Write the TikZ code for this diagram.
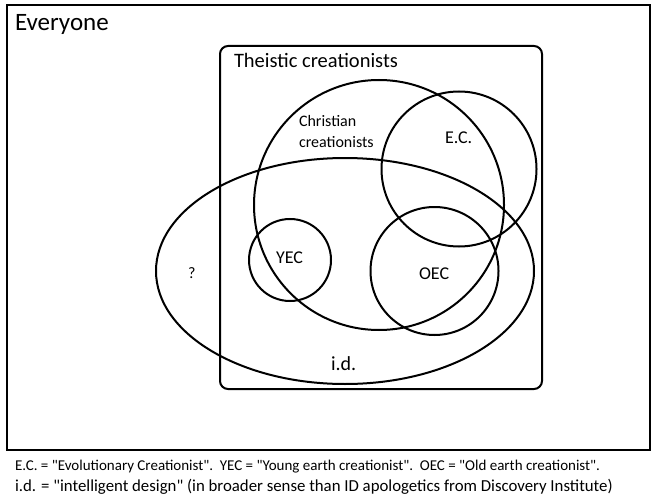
\documentclass[tikz,border=0pt]{standalone}
\usepackage{fontspec}
\setmainfont{Carlito}[Ligatures=TeXOff]

\begin{document}
\begin{tikzpicture}[x=1pt,y=-1pt,line width=2pt,
  lbl/.style={anchor=base west,inner sep=0pt,font=\fontsize{#1}{#1}\selectfont}]
\useasboundingbox (0,0) rectangle (653,500);
% frames
\draw[line width=2.5pt] (7,5) rectangle (650,450);
\draw[rounded corners=8pt] (220,46) rectangle (542,389);
% sets
\draw (379,205) circle [radius=125];
\draw (459,169) circle [radius=77.5];
\draw (434.5,271) circle [radius=64];
\draw (290,260) circle [radius=41];
\draw (345,271) ellipse [x radius=189, y radius=113];
% labels
\node[lbl=25] (everyone) at (14,31) {Everyone};
\node[lbl=20.5] (theistic) at (233,68) {Theistic creationists};
\node[lbl=16] (christian) at (298,127) {Christian};
\node[lbl=16] (creat) at (298,147) {creationists};
\node[lbl=18] (ec) at (444,143) {E.C.};
\node[lbl=18] (yec) at (275,263) {YEC};
\node[lbl=18] (oec) at (418,279) {OEC};
\node[lbl=16] (unknown) at (187,278) {?};
\node[lbl=20] (id) at (330,370) {i.d.};
% legend
\node[lbl=15] (legend1) at (14,470) {E.C. = "Evolutionary Creationist".\ \ YEC = "Young earth creationist".\ \ OEC = "Old earth creationist".};
\node[lbl=16.8] (legend2) at (14,491) {i.d. = "intelligent design" (in broader sense than ID apologetics from Discovery Institute)};
\end{tikzpicture}
\end{document}
